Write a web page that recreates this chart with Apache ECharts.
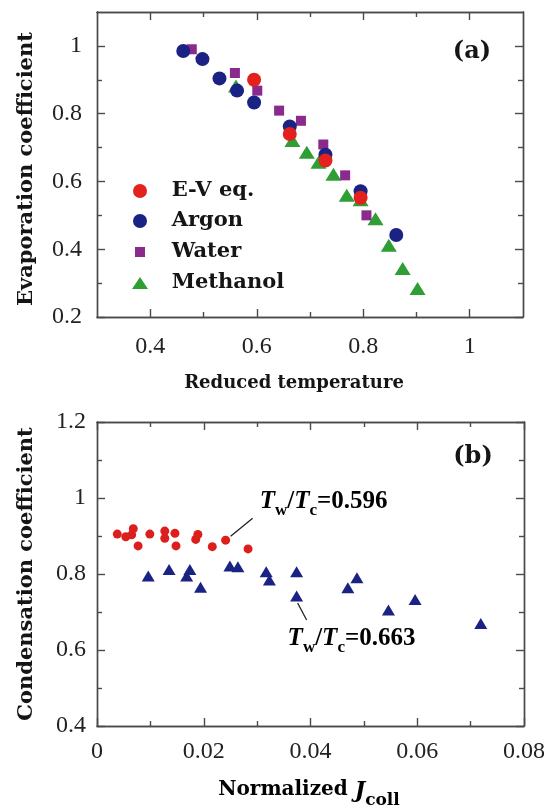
<!DOCTYPE html>
<html>
<head>
<meta charset="utf-8">
<script src="https://cdn.jsdelivr.net/npm/echarts@6/dist/echarts.min.js"></script>
<style>
  html, body { margin: 0; padding: 0; background: #ffffff; }
  #chart { width: 548px; height: 805px; }
</style>
</head>
<body>
<div id="chart"></div>
<script>
// ---- (a) evaporation coefficient vs reduced temperature ----
const evTemp = [0.595, 0.662, 0.729, 0.795];
const evCoef = [0.900, 0.740, 0.662, 0.552];
const argonTemp = [0.462, 0.498, 0.530, 0.563, 0.595, 0.662, 0.729, 0.795, 0.862];
const argonCoef = [0.985, 0.961, 0.904, 0.868, 0.833, 0.762, 0.679, 0.571, 0.442];
const waterTemp = [0.478, 0.559, 0.601, 0.642, 0.683, 0.725, 0.766, 0.806];
const waterCoef = [0.990, 0.920, 0.868, 0.809, 0.779, 0.709, 0.618, 0.500];
const methanolTemp = [0.561, 0.667, 0.694, 0.716, 0.744, 0.769, 0.795, 0.823, 0.848, 0.874, 0.902];
const methanolCoef = [0.882, 0.721, 0.686, 0.657, 0.621, 0.559, 0.546, 0.490, 0.412, 0.343, 0.284];

// ---- (b) condensation coefficient vs normalized collision flux ----
const fluxLow = [0.0038, 0.0054, 0.0065, 0.0068, 0.0077, 0.0099, 0.0127, 0.0127, 0.0146, 0.0148,
                 0.0185, 0.0189, 0.0216, 0.0241, 0.0283];
const condLow = [0.905, 0.898, 0.903, 0.919, 0.874, 0.905, 0.913, 0.894, 0.907, 0.874,
                 0.891, 0.904, 0.872, 0.889, 0.866];
const fluxHigh = [0.0096, 0.0135, 0.0174, 0.0168, 0.0194, 0.0249, 0.0264, 0.0317, 0.0323, 0.0374,
                  0.0374, 0.0470, 0.0487, 0.0546, 0.0596, 0.0719];
const condHigh = [0.795, 0.812, 0.812, 0.795, 0.765, 0.821, 0.819, 0.806, 0.784, 0.806,
                  0.742, 0.764, 0.790, 0.705, 0.733, 0.670];
const lowLabelIndex = 13;   // point the 0.596 callout points to
const highLabelIndex = 10;  // point the 0.663 callout points to

// ---- tick positions and labels ----
const aXMajor = [0.4, 0.6, 0.8, 1.0];
const aXMinor = [0.5, 0.7, 0.9];
const aYMajor = [0.2, 0.4, 0.6, 0.8, 1.0];
const aYMinor = [0.3, 0.5, 0.7, 0.9];
const bXMajor = [0, 0.02, 0.04, 0.06, 0.08];
const bXMinor = [0.01, 0.03, 0.05, 0.07];
const bYMajor = [0.4, 0.6, 0.8, 1.0, 1.2];
const bYMinor = [0.5, 0.7, 0.9, 1.1];

const AXIS_COLOR = '#4a4a4a';
const TICK_FONT = '"Liberation Serif", serif';
const TITLE_FONT = '"DejaVu Serif", serif';

const zip = (xs, ys) => xs.map((x, i) => [x, ys[i]]);

function axis(grid, position, min, max, ticks, len, labels, margin) {
  return {
    type: 'value', gridIndex: grid, position, min, max,
    axisLine: { show: true, onZero: false, lineStyle: { color: AXIS_COLOR, width: 1.4 } },
    splitLine: { show: false },
    axisTick: { show: true, inside: true, length: len, customValues: ticks,
                lineStyle: { color: AXIS_COLOR, width: 1.4 } },
    axisLabel: labels ? {
      show: true, customValues: labels, margin,
      fontFamily: TICK_FONT, fontSize: 24, color: '#222'
    } : { show: false }
  };
}

// each side gets a long-tick axis and a short-tick axis
function sides(grid, dimA, dimB, min, max, major, minor, margin) {
  return [
    axis(grid, dimA, min, max, major, 8, major, margin),
    axis(grid, dimA, min, max, minor, 5, null),
    axis(grid, dimB, min, max, major, 8, null),
    axis(grid, dimB, min, max, minor, 5, null)
  ];
}

const xAxes = [
  ...sides(0, 'bottom', 'top', 0.3, 1.1, aXMajor, aXMinor, 18),
  ...sides(1, 'bottom', 'top', 0, 0.08, bXMajor, bXMinor, 14)
];
const yAxes = [
  ...sides(0, 'left', 'right', 0.2, 1.1, aYMajor, aYMinor, 15),
  ...sides(1, 'left', 'right', 0.4, 1.2, bYMajor, bYMinor, 11)
];

const RED = '#e3211d';
const NAVY = '#1a2383';
const PURPLE = '#8a2a8c';
const GREEN = '#2e9e35';

const legendRows = [
  { name: 'E-V eq.', icon: 'circle', w: 14, h: 14, cy: 191 },
  { name: 'Argon', icon: 'circle', w: 14, h: 14, cy: 221 },
  { name: 'Water', icon: 'rect', w: 10, h: 10, cy: 252 },
  { name: 'Methanol', icon: 'triangle', w: 16, h: 12, cy: 283 }
];

const chart = echarts.init(document.getElementById('chart'), null, { renderer: 'canvas' });

chart.setOption({
  animation: false,
  backgroundColor: '#ffffff',
  grid: [
    { left: 97, top: 12, width: 426, height: 305, containLabel: false },
    { left: 97, top: 422, width: 427, height: 304, containLabel: false }
  ],
  xAxis: xAxes,
  yAxis: yAxes,
  legend: legendRows.map(r => ({
    data: [{ name: r.name, icon: r.icon }],
    left: 140 - r.w / 2, top: r.cy - 11,
    orient: 'vertical', padding: 0,
    itemWidth: r.w, itemHeight: r.h, symbolKeepAspect: false,
    selectedMode: false,
    itemStyle: { opacity: 1 },
    textStyle: {
      fontFamily: TITLE_FONT, fontWeight: 'bold', fontSize: 21, color: '#151515',
      lineHeight: 22, padding: [0, 0, 0, 26.7 - r.w / 2]
    }
  })),
  series: [
    { name: 'Methanol', type: 'scatter', xAxisIndex: 0, yAxisIndex: 0,
      symbol: 'triangle', symbolSize: [16, 13], itemStyle: { color: GREEN, opacity: 1 },
      data: zip(methanolTemp, methanolCoef) },
    { name: 'Water', type: 'scatter', xAxisIndex: 0, yAxisIndex: 0,
      symbol: 'rect', symbolSize: 10, itemStyle: { color: PURPLE, opacity: 1 },
      data: zip(waterTemp, waterCoef) },
    { name: 'Argon', type: 'scatter', xAxisIndex: 0, yAxisIndex: 0,
      symbol: 'circle', symbolSize: 14, itemStyle: { color: NAVY, opacity: 1 },
      data: zip(argonTemp, argonCoef) },
    { name: 'E-V eq.', type: 'scatter', xAxisIndex: 0, yAxisIndex: 0,
      symbol: 'circle', symbolSize: 14, itemStyle: { color: RED, opacity: 1 },
      data: zip(evTemp, evCoef) },
    { name: 'Tw/Tc=0.663', type: 'scatter', xAxisIndex: 4, yAxisIndex: 4,
      symbol: 'triangle', symbolSize: [13, 11], itemStyle: { color: NAVY, opacity: 1 },
      data: zip(fluxHigh, condHigh) },
    { name: 'Tw/Tc=0.596', type: 'scatter', xAxisIndex: 4, yAxisIndex: 4,
      symbol: 'circle', symbolSize: 9, itemStyle: { color: '#dc1f1c', opacity: 1 },
      data: zip(fluxLow, condLow) }
  ]
});

// titles, panel tags and callouts
const toPx = (x, y) => chart.convertToPixel({ xAxisIndex: 4, yAxisIndex: 4 }, [x, y]);
const lowPt = toPx(fluxLow[lowLabelIndex], condLow[lowLabelIndex]);
const highPt = toPx(fluxHigh[highLabelIndex], condHigh[highLabelIndex]);

const xTitleStyle = { font: 'bold 18px "DejaVu Serif"', fill: '#151515', align: 'center', verticalAlign: 'middle' };
const yTitleStyle = { font: 'bold 21px "DejaVu Serif"', fill: '#151515', align: 'center', verticalAlign: 'middle' };

function ratioRich(color) {
  const base = { fontFamily: '"Liberation Serif", serif', fontWeight: 'bold', fontSize: 25, color, lineHeight: 27, verticalAlign: 'top' };
  return {
    ti: Object.assign({}, base, { fontStyle: 'italic' }),
    n: base,
    s: { fontFamily: '"Liberation Serif", serif', fontWeight: 'bold', fontSize: 17, color, lineHeight: 17,
         verticalAlign: 'top', padding: [13, 0, 0, 0] }
  };
}

chart.setOption({
  graphic: [
    { type: 'text', x: 294, y: 383, style: Object.assign({ text: 'Reduced temperature' }, xTitleStyle) },
    { type: 'text', x: 27, y: 169, rotation: Math.PI / 2,
      style: Object.assign({ text: 'Evaporation coefficient' }, yTitleStyle) },
    { type: 'text', x: 27, y: 574, rotation: Math.PI / 2,
      style: Object.assign({ text: 'Condensation coefficient' }, yTitleStyle) },
    { type: 'text', x: 309, y: 792,
      style: {
        text: '{b|Normalized }{bi|J}{s|coll}', align: 'center', verticalAlign: 'middle',
        rich: {
          b: { fontFamily: TITLE_FONT, fontWeight: 'bold', fontSize: 20, color: '#151515', lineHeight: 24, verticalAlign: 'top' },
          bi: { fontFamily: TITLE_FONT, fontWeight: 'bold', fontStyle: 'italic', fontSize: 22, color: '#151515', lineHeight: 24, verticalAlign: 'top' },
          s: { fontFamily: TITLE_FONT, fontWeight: 'bold', fontSize: 17, color: '#151515', lineHeight: 17, verticalAlign: 'top', padding: [12, 0, 0, 0] }
        }
      } },
    { type: 'text', x: 472, y: 52,
      style: { text: '(a)', font: 'bold 24px "DejaVu Serif"', fill: '#151515', align: 'center', verticalAlign: 'middle' } },
    { type: 'text', x: 473, y: 457,
      style: { text: '(b)', font: 'bold 24px "DejaVu Serif"', fill: '#151515', align: 'center', verticalAlign: 'middle' } },
    { type: 'line', shape: { x1: lowPt[0] + 5, y1: lowPt[1] - 4, x2: lowPt[0] + 27, y2: lowPt[1] - 22 },
      style: { stroke: '#222', lineWidth: 1.3 } },
    { type: 'text', x: lowPt[0] + 34, y: lowPt[1] - 38,
      style: { text: '{ti|T}{s|w}{n|/}{ti|T}{s|c}{n|=0.596}', verticalAlign: 'middle', align: 'left',
               rich: ratioRich('#d42a2a') } },
    { type: 'line', shape: { x1: highPt[0] + 1, y1: highPt[1] + 7, x2: highPt[0] + 10, y2: highPt[1] + 24 },
      style: { stroke: '#222', lineWidth: 1.3 } },
    { type: 'text', x: highPt[0] - 9, y: highPt[1] + 44,
      style: { text: '{ti|T}{s|w}{n|/}{ti|T}{s|c}{n|=0.663}', verticalAlign: 'middle', align: 'left',
               rich: ratioRich('#1d2a86') } }
  ]
});
</script>
</body>
</html>
